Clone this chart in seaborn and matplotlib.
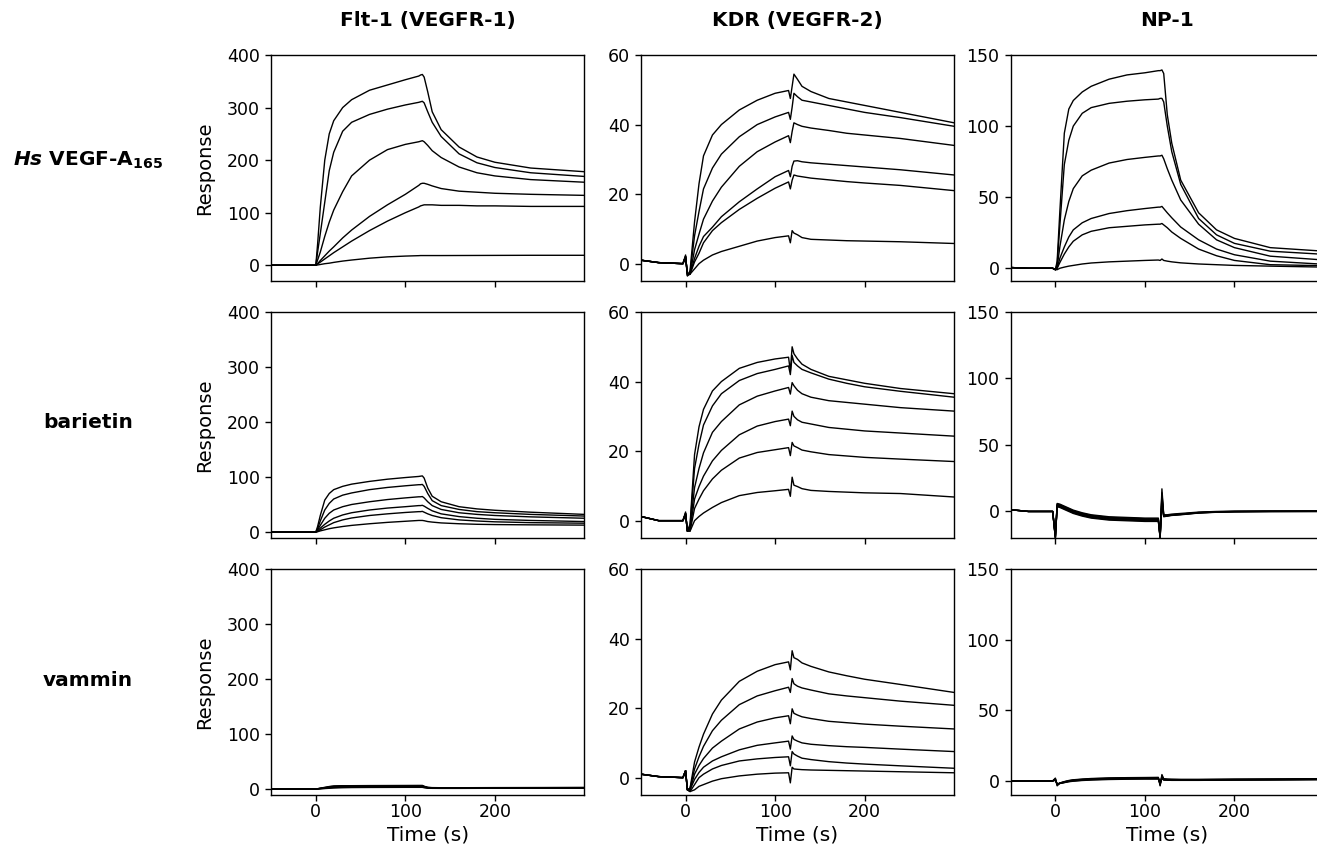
import numpy as np
import pandas as pd
import matplotlib
matplotlib.use("Agg")
import matplotlib.pyplot as plt
import seaborn as sns

## sampling times shared by every sensorgram (s)
time_s = [-50, -30, -3, 0, 2, 5, 10, 15, 20, 30, 40, 60, 80, 100,
          115, 117, 119, 121, 125, 130, 140, 160, 180, 200, 240, 300]

receptors = ["Flt-1 (VEGFR-1)", "KDR (VEGFR-2)", "NP-1"]
ligands = [r"$\mathbfit{Hs}$ VEGF-A$_\mathbf{165}$", "barietin", "vammin"]

# response curves, one list per concentration (high -> low)
flt1_vegf = [
    [0, 0, 0, 0, 40, 110, 200, 250, 275, 300, 315, 333, 343, 353, 360, 362, 363, 358, 330, 292, 258, 225, 206, 196, 185, 178],
    [0, 0, 0, 0, 25, 60, 120, 180, 215, 255, 272, 287, 297, 305, 310, 311, 312, 309, 292, 272, 245, 212, 195, 186, 176, 169],
    [0, 0, 0, 0, 10, 25, 55, 82, 105, 140, 170, 200, 220, 230, 235, 236, 237, 235, 228, 218, 205, 187, 176, 170, 163, 158],
    [0, 0, 0, 0, 3, 9, 18, 27, 35, 52, 67, 93, 115, 135, 152, 155, 156, 156, 154, 151, 146, 141, 139, 137, 135, 133],
    [0, 0, 0, 0, 2.5, 6, 12, 18, 24, 35, 46, 66, 84, 100, 111, 113, 114, 115, 115, 115, 114, 114, 113, 113, 112, 112],
    [0, 0, 0, 0, 0.6, 1.5, 3, 4, 5.5, 8, 10, 13.5, 16, 17.5, 18.3, 18.5, 18.5, 18.5, 18.5, 18.5, 18.5, 18.6, 18.7, 18.8, 19, 19],
]
kdr_vegf = [
    [1, 0.3, 0, 2.5, -3.5, -2, 12, 23, 31, 37, 40, 44.2, 47, 49, 49.8, 47.5, 51, 54.5, 53, 51, 49.5, 47.5, 46.5, 45.5, 43.5, 40.5],
    [1, 0.3, 0, 2, -3, -2.5, 8, 15, 21.5, 27.5, 31.5, 36.5, 40, 42.2, 43.5, 41.5, 45, 49, 48, 47, 46.5, 45.5, 44.5, 43.5, 42, 39.5],
    [1, 0.3, 0, 2, -3.5, -3, 4, 8.5, 12.8, 18, 22, 28, 32.2, 35, 36.8, 34.8, 38, 40.5, 40, 39.5, 39, 38.3, 37.5, 37, 36, 34],
    [1, 0.3, 0, 2, -3, -3, 1.5, 5, 7.8, 10.5, 13.5, 17.8, 21.5, 25, 26.8, 25, 28, 29.5, 29.6, 29.3, 29, 28.6, 28.2, 27.8, 27, 25.5],
    [1, 0.3, 0, 2, -3, -3, 0.5, 3, 6, 9.5, 11.8, 15.6, 18.8, 21.7, 23.5, 21.5, 24, 25.5, 25.2, 25, 24.6, 24.1, 23.6, 23.2, 22.5, 21],
    [1, 0.3, 0, 2, -3, -3, -1.5, 0, 1, 2.5, 3.5, 5, 6.5, 7.5, 8, 6, 9.5, 8.8, 8.3, 7.5, 7, 6.8, 6.6, 6.5, 6.3, 5.8],
]
np1_vegf = [
    [0.5, 0, 0, -1, 5, 40, 95, 112, 118, 124, 128, 133, 136, 137.5, 139, 139, 139.5, 137, 108, 88, 62, 39, 27, 21, 14.5, 12],
    [0.5, 0, 0, -1, 3, 30, 73, 90, 100, 109, 113, 116, 117.5, 118.5, 119, 119.5, 119.5, 117, 100, 82, 59, 35, 23.5, 17.5, 12, 9.8],
    [0.5, 0, 0, -1, 1, 15, 34, 47, 56, 65, 69, 74, 76.5, 78, 79, 79, 79.5, 77, 70, 62, 48, 31, 20, 14.5, 8.5, 5.8],
    [0.5, 0, 0, -1, 0, 7, 15, 22, 27, 32, 35, 38.5, 40.5, 42, 43, 43, 43.5, 42, 39, 35.5, 29, 20, 13.5, 9.5, 5, 2.8],
    [0.5, 0, 0, -1, 0, 4, 10, 15, 19, 23.5, 26, 28.5, 29.5, 30.5, 31, 31, 31.5, 30.5, 28.5, 25.5, 21, 13.5, 8.8, 5.5, 2.5, 1.8],
    [0.5, 0, 0, -1, -1, 0, 0.8, 1.5, 2, 3, 3.7, 4.5, 5, 5.5, 5.8, 5.5, 6.5, 5.5, 5, 4.5, 3.8, 3, 2.5, 2, 1.5, 0.8],
]

flt1_bar = [
    [0, 0, 0, 0, 10, 30, 58, 70, 77, 83, 87, 92, 96, 99, 101, 101.5, 102, 98, 80, 65, 55, 46, 42, 39.5, 36, 32],
    [0, 0, 0, 0, 6, 20, 40, 52, 60, 67, 71, 77, 81, 84, 86, 86, 86.5, 83, 70, 57, 48, 41, 37, 35, 32, 29],
    [0, 0, 0, 0, 4, 12, 25, 34, 40, 46, 50, 55, 59, 62, 64, 64, 64.5, 62, 55, 48, 41, 35, 32, 30, 27.5, 25],
    [0, 0, 0, 0, 2, 7, 14, 20, 25, 31, 35, 40, 43.5, 46, 48, 48, 48.5, 47, 43, 38.5, 33, 28, 25, 23, 21, 19],
    [0, 0, 0, 0, 1, 4, 9, 13, 17, 22, 25.5, 30, 33, 35.5, 37, 37, 37.5, 36, 33, 30, 26, 22, 20, 18.5, 17, 16],
    [0, 0, 0, 0, 0.5, 2, 4, 6, 7.5, 10, 12, 15, 17.5, 19.5, 21, 21, 21, 20.5, 19, 18, 16.5, 15, 14, 13.5, 13, 12.5],
]
kdr_bar = [
    [1.2, 0, 0, 2.5, -3, -1, 19, 27, 32, 37.3, 40, 43.8, 45.5, 46.5, 47, 43, 50, 48, 46.5, 45, 43.5, 41.5, 40.5, 39.5, 38, 36.5],
    [1.2, 0, 0, 2, -3, -1.5, 15, 22, 27.5, 33, 36.5, 40.3, 42.3, 43.5, 44.5, 42, 47.5, 45.5, 44.5, 43.5, 42.5, 40.7, 39.5, 38.5, 37.2, 35.5],
    [1.2, 0, 0, 2, -3, -2, 9.5, 15, 19.5, 25.4, 28.5, 33.3, 35.8, 37.3, 38.3, 36.4, 39.7, 38.8, 37.5, 36.5, 35.5, 34.5, 34, 33.5, 32.5, 31.5],
    [1.2, 0, 0, 2, -3, -2.5, 6.2, 9.8, 12.8, 17.2, 20.2, 24.7, 27.2, 28.5, 29.2, 27.3, 31.5, 30, 29, 28.3, 27.8, 26.8, 26.3, 25.8, 25.2, 24.3],
    [1.2, 0, 0, 2, -3, -3, 3.5, 6.2, 8.6, 12, 14.5, 18, 19.6, 20.4, 21, 18.7, 22.5, 21.5, 21, 20.3, 19.8, 19, 18.6, 18.2, 17.7, 17],
    [1.2, 0, 0, 2, -3, -3, 0, 1.2, 2.2, 3.8, 5.2, 7.2, 8.1, 8.6, 9, 7, 12.5, 10.2, 9.8, 9.2, 8.7, 8.4, 8.2, 8, 7.8, 6.8],
]
np1_bar = [
    [1.3, 0, 0, -20, 6, 5.5, 4, 2.5, 1, -1, -2.5, -4, -4.5, -5, -5, -20, 17, -2.5, -2.5, -2, -1.5, -0.5, 0, 0.2, 0.3, 0.4],
    [1.3, 0, 0, -19, 5.5, 5, 3.5, 2, 0.5, -1.5, -3, -4.5, -5, -5.5, -5.5, -19, 14, -3, -3, -2.5, -2, -0.8, -0.2, 0, 0.2, 0.3],
    [1.3, 0, 0, -20, 5, 4.5, 3, 1.5, 0, -2, -3.5, -5, -5.5, -6, -6, -20, 12, -3, -3, -2.5, -2, -0.8, -0.3, 0, 0.1, 0.2],
    [1.3, 0, 0, -18, 4.5, 4, 2.5, 1, -0.5, -2.5, -4, -5.5, -6, -6.5, -6.5, -18, 10, -3.5, -3.2, -2.7, -2.2, -1, -0.4, -0.1, 0, 0.1],
    [1.3, 0, 0, -20, 4, 3.5, 2, 0.5, -1, -3, -4.5, -6, -6.5, -7, -7, -20, 8, -3.5, -3.4, -2.8, -2.3, -1.1, -0.5, -0.2, 0, 0],
    [1.3, 0, 0, -19, 3.5, 3, 1.5, 0, -1.5, -3.5, -5, -6.5, -7, -7.5, -7.5, -19, 6, -4, -3.5, -3, -2.5, -1.2, -0.6, -0.3, -0.1, 0],
]

flt1_vam = [
    [0, 0, 0, 0, 0.5, 1.5, 3, 4.5, 5.5, 6, 6, 6.2, 6.3, 6.4, 6.5, 6.5, 6.5, 5, 3, 2.5, 2.3, 2.3, 2.4, 2.5, 2.6, 2.8],
    [0, 0, 0, 0, 0.4, 1.2, 2.5, 4, 5, 5.5, 5.6, 5.8, 5.8, 5.9, 6, 6, 6, 4.5, 2.8, 2.2, 2, 2, 2.1, 2.2, 2.3, 2.5],
    [0, 0, 0, 0, 0.3, 1, 2, 3.3, 4.3, 4.8, 5, 5.1, 5.2, 5.3, 5.3, 5.3, 5.3, 4, 2.5, 2, 1.8, 1.8, 1.9, 2, 2.1, 2.2],
    [0, 0, 0, 0, 0.3, 0.8, 1.6, 2.7, 3.6, 4.2, 4.4, 4.6, 4.7, 4.8, 4.8, 4.8, 4.8, 3.5, 2.2, 1.8, 1.6, 1.6, 1.7, 1.8, 1.9, 2],
    [0, 0, 0, 0, 0.2, 0.6, 1.2, 2, 2.7, 3.3, 3.6, 3.8, 3.9, 4, 4, 4, 4, 3, 1.9, 1.5, 1.4, 1.4, 1.5, 1.6, 1.7, 1.8],
    [0, 0, 0, 0, 0.1, 0.4, 0.8, 1.3, 1.8, 2.3, 2.6, 2.8, 2.9, 3, 3, 3, 3, 2.3, 1.5, 1.2, 1.1, 1.1, 1.2, 1.3, 1.4, 1.5],
]
kdr_vam = [
    [1, 0.3, 0, 2, -3.5, -3, 4.5, 8.8, 12.5, 18.3, 22.3, 27.7, 30.6, 32.5, 33.3, 31, 36.5, 34.5, 34, 33, 32, 30.4, 29.3, 28.3, 26.8, 24.5],
    [1, 0.3, 0, 2, -3.5, -3, 2.5, 6, 9, 13.5, 16.5, 21, 23.5, 25, 26, 24.5, 28.5, 27, 26.3, 25.8, 25.2, 24.1, 23.5, 23, 22, 20.8],
    [1, 0.3, 0, 2, -3.5, -3.5, 1, 3.5, 5.5, 8.5, 10.5, 14, 16, 17.2, 17.8, 15.5, 19.8, 18.5, 18, 17.5, 17, 16.2, 15.8, 15.4, 14.8, 14],
    [1, 0.3, 0, 2, -3.5, -3.5, -0.5, 1.5, 3, 4.8, 6, 8, 9.3, 10, 10.5, 8.2, 12, 11, 10.5, 10, 9.6, 9.2, 8.9, 8.7, 8.2, 7.5],
    [1, 0.3, 0, 2, -3.5, -4, -2, 0, 1, 2.5, 3.5, 4.8, 5.4, 5.8, 6, 3.4, 7.5, 6.8, 6.2, 5.6, 5.2, 4.6, 4.2, 3.9, 3.4, 2.7],
    [1, 0.3, 0, 2, -3.5, -4, -3.5, -2.5, -2, -1, -0.3, 0.5, 1, 1.3, 1.4, -1.5, 3, 2.5, 2.4, 2.3, 2.2, 2.1, 2, 1.9, 1.7, 1.4],
]
np1_vam = [
    [0, 0, 0, 2, -3.5, -1.5, -0.5, 0.3, 0.8, 1.3, 1.7, 2.1, 2.3, 2.4, 2.5, -3.5, 4.5, 1.5, 1.3, 1.2, 1.1, 1.1, 1.2, 1.3, 1.4, 1.6],
    [0, 0, 0, 1.5, -3, -1.5, -0.6, 0.1, 0.6, 1.1, 1.5, 1.9, 2.1, 2.2, 2.3, -3, 3.5, 1.3, 1.1, 1, 0.9, 0.9, 1, 1.1, 1.2, 1.4],
    [0, 0, 0, 1, -2.5, -1.6, -0.8, 0, 0.4, 0.9, 1.3, 1.7, 1.9, 2, 2, -2.5, 3, 1.1, 0.9, 0.8, 0.7, 0.7, 0.8, 0.9, 1, 1.2],
    [0, 0, 0, 1, -2.5, -1.7, -1, -0.2, 0.2, 0.7, 1.1, 1.5, 1.7, 1.8, 1.8, -2, 2.5, 1, 0.8, 0.7, 0.6, 0.6, 0.7, 0.8, 0.9, 1.1],
    [0, 0, 0, 0.5, -2, -1.8, -1.1, -0.4, 0, 0.5, 0.9, 1.3, 1.5, 1.6, 1.6, -1.5, 2, 0.8, 0.6, 0.5, 0.5, 0.5, 0.6, 0.7, 0.8, 1],
    [0, 0, 0, 0.5, -2, -1.8, -1.2, -0.6, -0.2, 0.3, 0.6, 1, 1.2, 1.3, 1.3, -1, 1.5, 0.6, 0.5, 0.4, 0.4, 0.4, 0.5, 0.6, 0.7, 0.9],
]

panels = [[flt1_vegf, kdr_vegf, np1_vegf],
          [flt1_bar, kdr_bar, np1_bar],
          [flt1_vam, kdr_vam, np1_vam]]

ylims = [[(-30, 400), (-5, 60), (-9, 150)],
         [(-11, 400), (-5, 60), (-20, 150)],
         [(-11, 400), (-5, 60), (-10, 150)]]
yticks = [[0, 100, 200, 300, 400], [0, 20, 40, 60], [0, 50, 100, 150]]


def to_long(curves):
    rows = []
    for i, c in enumerate(curves):
        for t, v in zip(time_s, c):
            rows.append([i, t, v])
    return pd.DataFrame(rows, columns=["curve", "time", "response"])


sns.set_theme(style="ticks")
plt.rcParams["font.family"] = ["DejaVu Sans"]
plt.rcParams["text.color"] = "black"
plt.rcParams["axes.labelcolor"] = "black"
plt.rcParams["xtick.color"] = "black"
plt.rcParams["ytick.color"] = "black"

fig, axes = plt.subplots(3, 3, figsize=(13.17, 8.57), dpi=100)
fig.subplots_adjust(left=0.2058, right=1.0053, top=0.9358, bottom=0.0723,
                    wspace=0.18, hspace=0.137)

for r in range(3):
    for c in range(3):
        ax = axes[r, c]
        df = to_long(panels[r][c])
        sns.lineplot(data=df, x="time", y="response", units="curve",
                     estimator=None, sort=False, color="black",
                     linewidth=1.0, ax=ax)
        ax.set_xlim(-50, 300)
        ax.set_ylim(*ylims[r][c])
        ax.set_xticks([0, 100, 200])
        ax.set_yticks(yticks[c])
        ax.set_xlabel("")
        ax.set_ylabel("")
        for sp in ax.spines.values():
            sp.set_color("black")
            sp.set_linewidth(1.0)
        ax.tick_params(direction="out", length=4, width=1, color="black",
                       labelsize=12.5, labelcolor="black")
        ax.tick_params(axis="x", pad=2)
        ax.tick_params(axis="y", pad=4)
        if r < 2:
            ax.tick_params(axis="x", labelbottom=False)
        else:
            ax.set_xlabel("Time (s)", fontsize=14.5, labelpad=3)
        if c == 0:
            ax.set_ylabel("Response", fontsize=14, labelpad=9)
        if r == 0:
            ax.set_title(receptors[c], fontsize=14.5, fontweight="bold",
                         pad=21, color="black")

row_y = [160, 423, 680]
for name, y in zip(ligands, row_y):
    fig.text(88 / 1317, 1 - y / 857, name, ha="center", va="center",
             fontsize=14.5, fontweight="bold", color="black")

fig.savefig("out.png", dpi=100)
